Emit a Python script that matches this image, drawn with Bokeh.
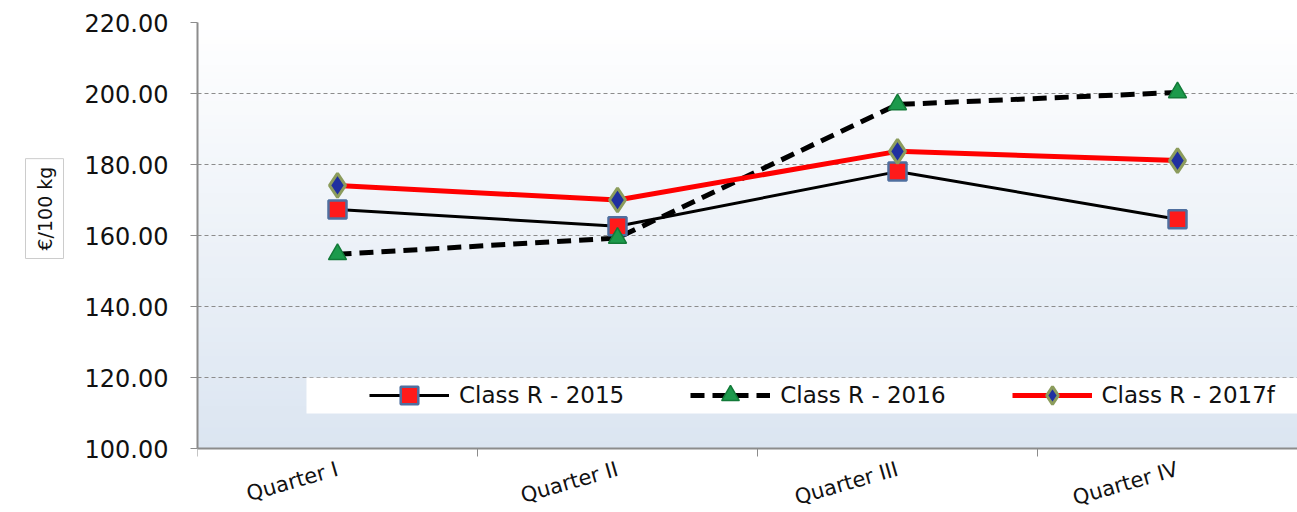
import math
from bokeh.plotting import figure
from bokeh.models import (Range1d, FixedTicker, NumeralTickFormatter, BoxAnnotation,
                          Legend, LegendItem, Title, ColumnDataSource, CustomJSTickFormatter)
from bokeh.embed import file_html
from bokeh.resources import INLINE

# ---- data ----
quarters = ["Quarter I", "Quarter II", "Quarter III", "Quarter IV"]
class_r_2015 = [167.3, 162.6, 178.0, 164.6]
class_r_2016 = [154.7, 159.3, 196.9, 200.3]
class_r_2017f = [174.1, 170.0, 183.7, 181.1]
y_ticks = [100, 120, 140, 160, 180, 200, 220]
y_label = "€/100 kg"

xs = [i + 0.5 for i in range(len(quarters))]
src = ColumnDataSource(dict(x=xs, a=class_r_2015, b=class_r_2016, c=class_r_2017f))

W, H = 1297, 512
L, R, T = 197, 0, 22
axis_y_px = 448            # pixel row of the x axis (value 100)
below_px = H - axis_y_px   # room kept below the axis, inside the frame, for the labels
frame_w = W - L - R
cat_px = 280
y_min, y_max = y_ticks[0], y_ticks[-1]
px_per_unit = (axis_y_px - T) / (y_max - y_min)

p = figure(width=W, height=H, output_backend="svg", toolbar_location=None,
           x_range=Range1d(0, frame_w / cat_px),
           y_range=Range1d(y_min - below_px / px_per_unit, y_max),
           min_border_left=L, min_border_right=R, min_border_top=T, min_border_bottom=0)
p.outline_line_color = None
p.background_fill_color = "white"
p.border_fill_color = "white"

# gradient background of the plot area
n = 60
c0 = (255, 255, 255)
c1 = (219, 229, 241)
for i in range(n):
    y0 = y_min + (y_max - y_min) * i / n
    y1 = y_min + (y_max - y_min) * (i + 1) / n + 0.3
    t = 1 - (i + 0.5) / n
    col = tuple(int(round(c0[k] + (c1[k] - c0[k]) * t)) for k in range(3))
    p.add_layout(BoxAnnotation(bottom=y0, top=min(y1, y_max), fill_color="#%02x%02x%02x" % col,
                               fill_alpha=1, line_alpha=0, level="image"))

# axes
grey = "#8c8c8c"
p.yaxis.ticker = FixedTicker(ticks=y_ticks)
p.yaxis.bounds = (y_min, y_max)
p.yaxis.formatter = NumeralTickFormatter(format="0.00")
p.yaxis.major_label_text_font = "DejaVu Sans"
p.yaxis.major_label_text_font_size = "24px"
p.yaxis.major_label_text_color = "#111111"
p.yaxis.major_tick_out = 7
p.yaxis.major_tick_in = 0
p.yaxis.minor_tick_line_color = None
p.yaxis.major_tick_line_color = grey
p.yaxis.axis_line_color = grey
p.yaxis.axis_line_width = 2
p.yaxis.major_label_standoff = 22

p.xaxis.fixed_location = y_min
p.xaxis.ticker = FixedTicker(ticks=xs, minor_ticks=list(range(len(quarters))))
p.xaxis.formatter = CustomJSTickFormatter(args=dict(labels=quarters),
                                          code="return labels[Math.floor(tick)]")
p.xaxis.major_tick_line_color = None
p.xaxis.major_tick_out = 0
p.xaxis.minor_tick_out = 8
p.xaxis.minor_tick_in = 0
p.xaxis.minor_tick_line_color = grey
p.xaxis.axis_line_color = grey
p.xaxis.axis_line_width = 2
p.xaxis.major_label_orientation = 0.28
p.xaxis.major_label_text_font = "DejaVu Sans"
p.xaxis.major_label_text_font_size = "21px"
p.xaxis.major_label_text_color = "#111111"
p.xaxis.major_label_standoff = 12

p.xgrid.grid_line_color = None
p.ygrid.ticker = FixedTicker(ticks=y_ticks)
p.ygrid.grid_line_color = grey
p.ygrid.grid_line_dash = "4 3"
p.ygrid.grid_line_width = 1

# series
l2015 = p.line("x", "a", source=src, line_color="black", line_width=3)
l2016 = p.line("x", "b", source=src, line_color="black", line_width=5, line_dash="14 8")
l2017 = p.line("x", "c", source=src, line_color="#ff0000", line_width=5)
m2015 = p.scatter("x", "a", source=src, marker="square", size=18, fill_color="#ff1a1a",
                  line_color="#4f6f9f", line_width=2.5)
m2016 = p.scatter("x", "b", source=src, marker="triangle", size=18, fill_color="#1c9a4c",
                  line_color="#127a38", line_width=1.5)
m2017 = p.scatter("x", "c", source=src, marker="diamond", size=24, fill_color="#2030a0",
                  line_color="#8c9c5c", line_width=3)

# legend box (white band behind the legend)
p.add_layout(BoxAnnotation(left=(306 - 197) / cat_px, bottom=y_min + (448 - 413) / px_per_unit,
                           top=120 - 0.05, fill_color="white", fill_alpha=1, line_alpha=0))

legend = Legend(items=[LegendItem(label="Class R - 2015", renderers=[l2015, m2015]),
                       LegendItem(label="Class R - 2016", renderers=[l2016, m2016]),
                       LegendItem(label="Class R - 2017f", renderers=[l2017, m2017])],
                orientation="horizontal", location=(172, 31 + below_px),
                background_fill_alpha=0, border_line_color=None,
                glyph_width=80, glyph_height=44, label_standoff=10, spacing=66,
                padding=0, margin=0,
                label_text_font="DejaVu Sans", label_text_font_size="23px",
                label_text_color="#111111")
p.add_layout(legend, "center")

# y label as a left title with a white box
p.add_layout(Title(text=y_label, align="left", offset=H - 258, standoff=36,
                   text_font="DejaVu Sans", text_font_size="19px", text_font_style="normal",
                   text_color="#111111", background_fill_color="white",
                   border_line_color="#cccccc", padding=8), "left")

open("out.html", "w").write(file_html(p, INLINE))
